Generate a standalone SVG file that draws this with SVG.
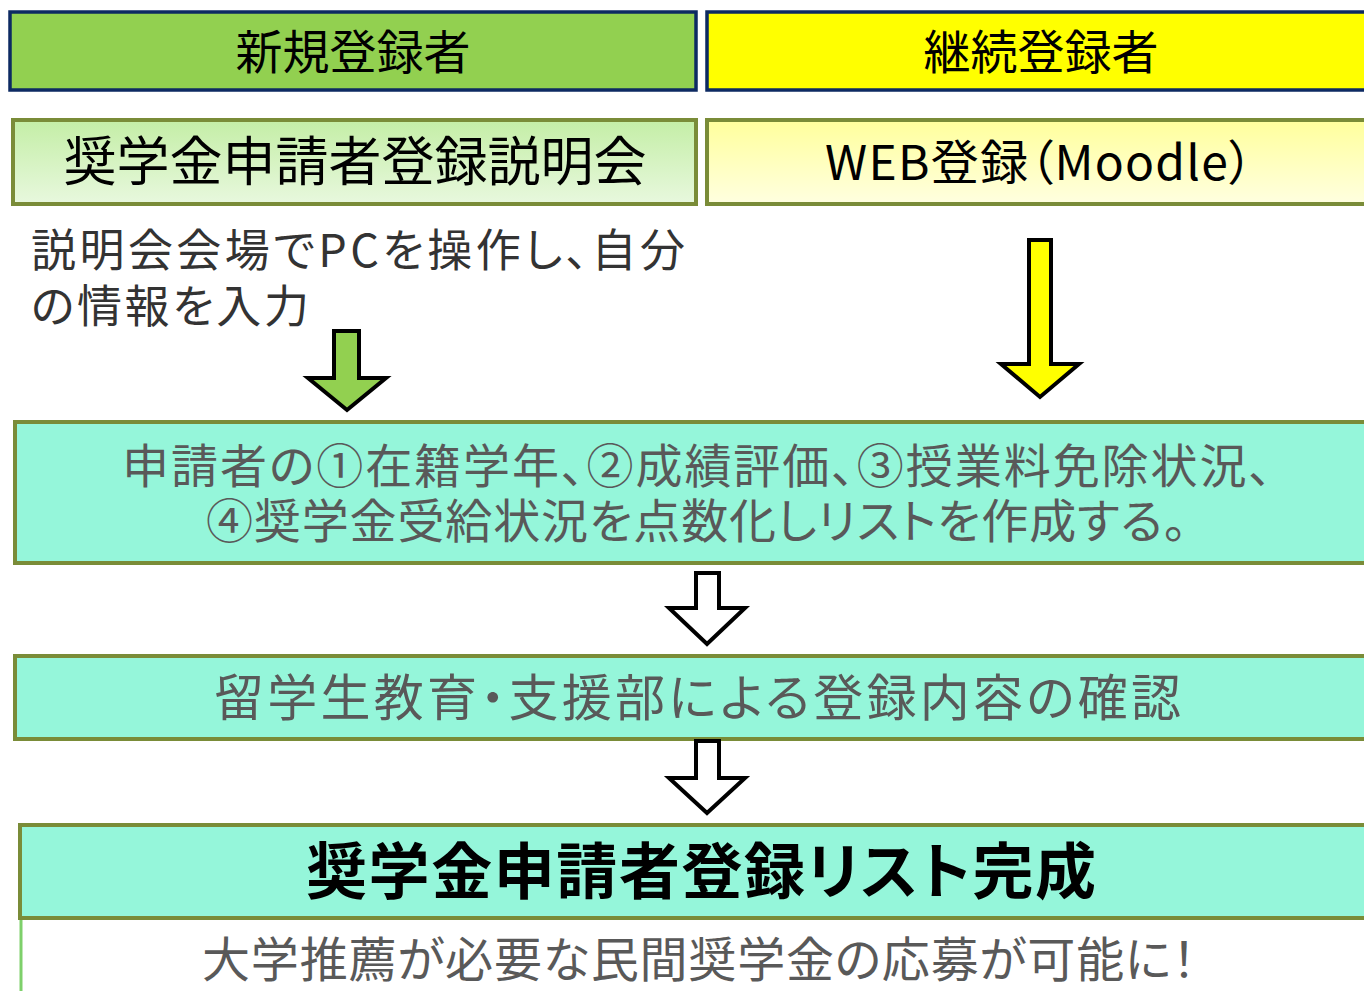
<svg xmlns="http://www.w3.org/2000/svg" width="1364" height="991" viewBox="0 0 1364 991">
<defs>
<linearGradient id="gGreen" x1="0" y1="0" x2="0" y2="1">
<stop offset="0" stop-color="#C4EEA6"/>
<stop offset="1" stop-color="#E8F8DE"/>
</linearGradient>
<linearGradient id="gYellow" x1="0" y1="0" x2="0" y2="1">
<stop offset="0" stop-color="#FFFF9C"/>
<stop offset="1" stop-color="#FFFFE0"/>
</linearGradient>
<style>
text{font-family:"Noto Sans CJK JP","Noto Sans",sans-serif;text-anchor:middle}
.p{font-feature-settings:"palt";text-anchor:start}
.hdr{stroke:#0D2A62;stroke-width:3.5}
.olv{stroke:#7A8C38;stroke-width:4}
.teal{fill:#95F6DA}
.t-black{fill:#000}
.t-gray{fill:#595959}
.arrow{stroke:#000;stroke-width:4;stroke-linejoin:miter}
</style>
</defs>
<rect width="1364" height="991" fill="#fff"/>

<g id="node-new">
<rect class="hdr" x="10" y="12" width="686" height="78" fill="#92D050"/>
<text class="t-black" x="353" y="69" font-size="47">新規登録者</text>
</g>
<g id="node-continue">
<rect class="hdr" x="707" y="12" width="680" height="78" fill="#FFFF00"/>
<text class="t-black" x="1041" y="69" font-size="47">継続登録者</text>
</g>
<g id="node-briefing">
<rect class="olv" x="13" y="120" width="683" height="84" fill="url(#gGreen)"/>
<text class="t-black" x="355" y="181" font-size="53">奨学金申請者登録説明会</text>
</g>
<g id="node-web">
<rect class="olv" x="707" y="120" width="680" height="84" fill="url(#gYellow)"/>
<text class="t-black p" x="825" y="180" font-size="48" textLength="428" lengthAdjust="spacing">WEB登録（Moodle）</text>
</g>
<g id="note-input">
<text class="p" font-size="45" fill="#333"><tspan x="31" y="267" textLength="654" lengthAdjust="spacing">説明会会場でPCを操作し、自分</tspan><tspan x="31" y="323" textLength="278" lengthAdjust="spacing">の情報を入力</tspan></text>
</g>
<g id="node-list">
<rect class="olv teal" x="15" y="422" width="1372" height="141"/>
<text class="t-gray p" font-size="47"><tspan x="122" y="483" textLength="1150" lengthAdjust="spacing">申請者の①在籍学年、②成績評価、③授業料免除状況、</tspan><tspan x="206" y="538" textLength="981" lengthAdjust="spacing">④奨学金受給状況を点数化しリストを作成する。</tspan></text>
</g>
<g id="node-check">
<rect class="olv teal" x="15" y="656" width="1372" height="83"/>
<text class="t-gray p" x="214" y="716" font-size="50" textLength="967" lengthAdjust="spacing">留学生教育・支援部による登録内容の確認</text>
</g>
<g id="node-complete">
<rect class="olv teal" x="20" y="825" width="1367" height="93"/>
<text class="t-black p" x="306" y="894" font-size="61" font-weight="bold" textLength="790" lengthAdjust="spacing">奨学金申請者登録リスト完成</text>
<line x1="21" y1="920" x2="21" y2="991" stroke="#7ED06B" stroke-width="3"/>
<text class="t-gray p" x="202" y="977" font-size="48" textLength="994" lengthAdjust="spacing">大学推薦が必要な民間奨学金の応募が可能に！</text>
</g>

<g id="connectors">
<polygon class="arrow" fill="#92D050" points="334,331 359,331 359,378 386,378 347,410 308,378 334,378"/>
<polygon class="arrow" fill="#FFFF00" points="1029,240 1051,240 1051,364 1079,364 1040,397 1001,364 1029,364"/>
<polygon class="arrow" fill="#fff" points="696,573 719,573 719,608 745,608 707,644 669,608 696,608"/>
<polygon class="arrow" fill="#fff" points="696,741 719,741 719,778 745,778 707,813 669,778 696,778"/>
</g>
</svg>
